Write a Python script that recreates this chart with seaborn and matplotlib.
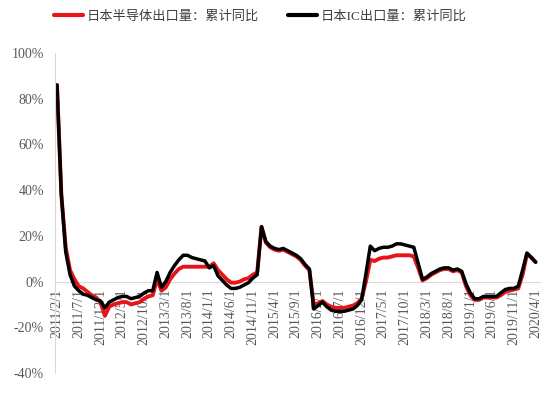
import numpy as np
import pandas as pd
import matplotlib.pyplot as plt
import seaborn as sns

# monthly cumulative YoY (%), 2011/2 .. 2020/4
months = pd.date_range('2011-02-01', '2020-04-01', freq='MS')

ic_yoy = [86, 38, 13, 3, -2, -4, -5.5, -6, -7, -8,
          -8.5, -11.5, -9, -8, -7, -6.5, -6.5, -7.5, -7, -6.5,
          -5, -4, -4, 4, -2.5, 0, 4, 7, 9.5, 11.5,
          11.5, 10.5, 10, 9.5, 9, 6, 7, 2.5, 0.5, -1.5,
          -3, -3, -2.5, -1.5, -0.5, 1.5, 3, 24, 17.5, 15.5,
          14.5, 14, 14.5, 13.5, 12.5, 11.5, 10, 7.5, 5.5, -12,
          -10.5, -9, -11, -12.5, -13, -13, -13, -12.5, -12, -10.5,
          -8, 3.5, 15.5, 13.5, 14.5, 15, 15, 15.5, 16.5, 16.5,
          16, 15.5, 15, 8, 1, 2, 3.5, 4.5, 5.5, 6,
          6, 5, 5.5, 4.5, -1, -5, -7.5, -7.5, -6.5, -6.5,
          -6.5, -6.5, -5, -3.5, -3, -3, -2, 5, 12.5, 10.5,
          8.5]

semi_yoy = [86, 38, 15, 5, 1, -2, -3, -4.5, -6, -7,
            -9, -15, -11, -10, -9.5, -9, -9, -10, -9.5, -9,
            -7.5, -6.5, -6, 1, -4, -2.5, 1, 3.5, 5.5, 6.5,
            6.5, 6.5, 6.5, 6.5, 6.5, 6.5, 8, 5, 3, 1,
            -0.5, -0.5, 0, 1, 1.5, 3, 4, 24, 17, 15,
            14, 13.5, 14, 13, 12, 11, 9.5, 7, 5, -10,
            -9.5, -8.5, -10, -11, -11.5, -11.5, -11.5, -11, -10.5, -9.5,
            -7.5, 0, 9.5, 9, 10, 10.5, 10.5, 11, 11.5, 11.5,
            11.5, 11.5, 11, 6, 0.5, 1.5, 3, 4, 5, 5.5,
            5.5, 4.5, 5, 4, -2, -6, -8, -8, -7, -7,
            -7, -7, -6, -4.5, -4, -3.5, -3, 3, 12, 10.5,
            8.5]

semi_label = '日本半导体出口量：累计同比'
ic_label = '日本IC出口量：累计同比'
y_ticks = [-40, -20, 0, 20, 40, 60, 80, 100]

df = pd.DataFrame({
    'idx': np.arange(len(months)),
    'semi': semi_yoy,
    'ic': ic_yoy,
})
tick_pos = df['idx'][::5]
tick_labels = [f"{d.year}/{d.month}/1" for d in months[::5]]

sns.set_style('white')
plt.rcParams['font.family'] = ['Liberation Serif', 'Noto Sans CJK SC']

fig = plt.figure(figsize=(5.5, 3.93), dpi=100)
ax = fig.add_axes([55 / 550, 1 - 373 / 393, 485 / 550, 320 / 393])

sns.lineplot(data=df, x='idx', y='semi', ax=ax, color='#e8141b',
             linewidth=2.8, label=semi_label)
sns.lineplot(data=df, x='idx', y='ic', ax=ax, color='black',
             linewidth=2.5, label=ic_label)

ax.set_xlim(-0.46, 111)
ax.set_ylim(-40, 100)
ax.set_xlabel('')
ax.set_ylabel('')

grey = '#d9d9d9'
for s in ['top', 'right']:
    ax.spines[s].set_visible(False)
ax.spines['left'].set_color(grey)
ax.spines['bottom'].set_color(grey)
ax.spines['bottom'].set_position(('data', 0))
ax.spines['bottom'].set_zorder(0)

ax.set_yticks(y_ticks)
ax.set_yticklabels([f"{v}%" for v in y_ticks])
ax.set_xticks(tick_pos)
ax.set_xticklabels(tick_labels, rotation=90)
ax.tick_params(axis='both', colors=grey, labelcolor='#595959', labelsize=10,
               length=3, width=0.8)
ax.tick_params(axis='x', pad=2)
ax.tick_params(axis='y', pad=5)

ax.get_legend().remove()
handles, labels = ax.get_legend_handles_labels()
leg = fig.legend(handles, labels, loc='center', bbox_to_anchor=(0.473, 0.957),
                 ncol=2, frameon=False, handlelength=2.2, columnspacing=2.2,
                 handletextpad=0.3, prop={'family': ['Liberation Serif', 'Noto Sans CJK SC'], 'size': 9.5})
for line in leg.get_lines():
    line.set_linewidth(3)
for t in leg.get_texts():
    t.set_color('#404040')

plt.savefig('out.png', dpi=100)
plt.close()
